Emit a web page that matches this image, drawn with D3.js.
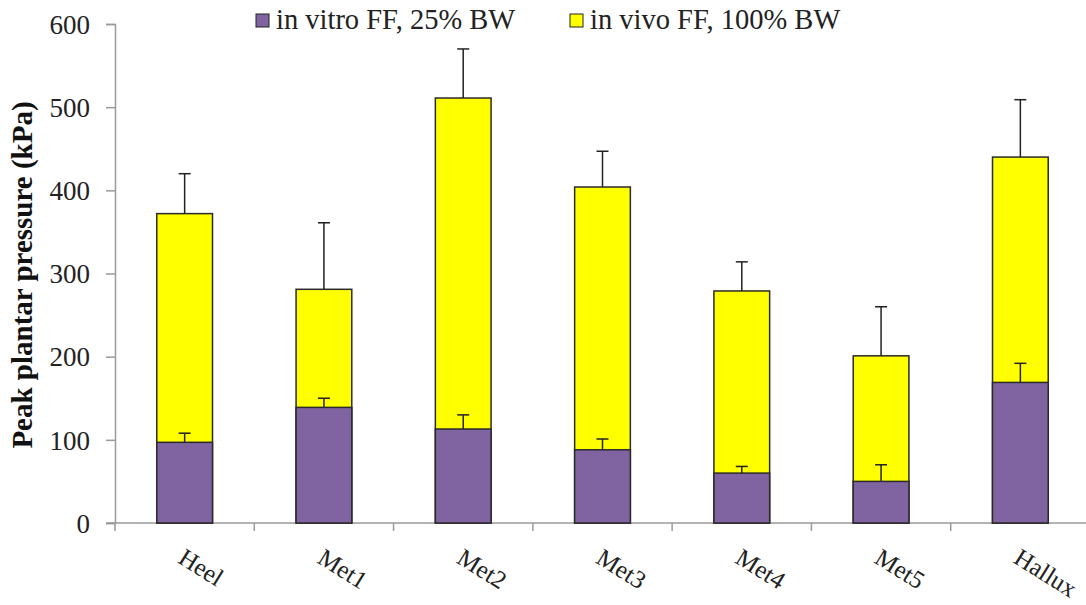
<!DOCTYPE html>
<html><head><meta charset="utf-8">
<script src="https://cdn.jsdelivr.net/npm/d3@7"></script>
<style>body{margin:0;background:#fff} svg text{font-family:"Liberation Serif","DejaVu Serif","Times New Roman",serif;}</style>
</head><body>
<svg id="c" width="1086" height="605"></svg>
<script>
const categories = ["Heel","Met1","Met2","Met3","Met4","Met5","Hallux"];
const vivo = [372, 281, 511, 404, 279, 201, 440];
const vivoErr = [48, 80, 59, 43, 35, 59, 69];
const vitro = [97, 139, 113, 88, 60, 50, 169];
const vitroErr = [11, 11, 17, 13, 8, 20, 23];
const yTicks = [0,100,200,300,400,500,600];
const seriesNames = ["in vitro FF, 25% BW","in vivo FF, 100% BW"];
const colors = ["#8064A2","#FFFF00"];

(function(){
const svg = d3.select("#c");
const mLeft = 115, mRight = 1090, mTop = 24, mBottom = 523;
const x = d3.scaleBand().domain(categories).range([mLeft,mRight]).paddingInner(0.6).paddingOuter(0.3);
const xb = d3.scaleBand().domain(categories).range([mLeft,mRight]);
const y = d3.scaleLinear().domain([0,600]).range([mBottom,mTop]);

// y axis
const ya = svg.append("g").attr("transform",`translate(${mLeft},0)`)
  .call(d3.axisLeft(y).tickValues(yTicks).tickSize(9).tickPadding(16));
ya.attr("font-family",null).attr("font-size",null);
ya.select(".domain").attr("stroke","#9a9a9a").attr("stroke-width",1.5);
ya.selectAll(".tick line").attr("stroke","#9a9a9a").attr("stroke-width",1.5);
ya.selectAll(".tick text").style("font-size","27px").attr("fill","#222").attr("dy","0.34em");

// x axis
const xa = svg.append("g").attr("transform",`translate(0,${mBottom})`);
xa.append("line").attr("x1",mLeft-9).attr("x2",1086).attr("y1",0).attr("y2",0).attr("stroke","#9a9a9a").attr("stroke-width",1.5);
xa.selectAll("line.t").data(categories).join("line").attr("class","t")
  .attr("x1",d=>xb(d)).attr("x2",d=>xb(d)).attr("y1",0).attr("y2",8)
  .attr("stroke","#9a9a9a").attr("stroke-width",1.5);
xa.selectAll("text").data(categories).join("text")
  .attr("transform",d=>`translate(${x(d)+x.bandwidth()/2-8},${39}) rotate(32)`)
  .style("font-size","25px").attr("fill","#222")
  .text(d=>d);

const g = svg.append("g");
function drawErr(vals, errs){
  categories.forEach((c,i)=>{
    const cx = x(c)+x.bandwidth()/2;
    g.append("line").attr("x1",cx).attr("x2",cx).attr("y1",y(vals[i])).attr("y2",y(vals[i]+errs[i])).attr("stroke","#222").attr("stroke-width",1.5);
    g.append("line").attr("x1",cx-6).attr("x2",cx+6).attr("y1",y(vals[i]+errs[i])).attr("y2",y(vals[i]+errs[i])).attr("stroke","#222").attr("stroke-width",1.5);
  });
}
g.selectAll("rect.vivo").data(vivo).join("rect").attr("class","vivo")
  .attr("x",(d,i)=>x(categories[i])).attr("width",x.bandwidth())
  .attr("y",d=>y(d)).attr("height",d=>mBottom-y(d))
  .attr("fill",colors[1]).attr("stroke","#2a2a2a").attr("stroke-width",1.5);
drawErr(vivo, vivoErr);
drawErr(vitro, vitroErr);
g.selectAll("rect.vitro").data(vitro).join("rect").attr("class","vitro")
  .attr("x",(d,i)=>x(categories[i])).attr("width",x.bandwidth())
  .attr("y",d=>y(d)).attr("height",d=>mBottom-y(d))
  .attr("fill",colors[0]).attr("stroke","#2a2a2a").attr("stroke-width",1.5);

svg.append("text").attr("transform",`translate(32,275) rotate(-90)`)
  .attr("text-anchor","middle").attr("font-weight","bold")
  .style("font-size","29px").attr("fill","#111").text("Peak plantar pressure (kPa)");

const legX = [256, 570];
seriesNames.forEach((s,i)=>{
  svg.append("rect").attr("x",legX[i]).attr("y",14).attr("width",13).attr("height",13)
    .attr("fill",colors[i]).attr("stroke","#222").attr("stroke-width",1);
  svg.append("text").attr("x",legX[i]+20).attr("y",29)
    .style("font-size","28.5px").attr("fill","#222").text(s);
});
})();
</script>
</body></html>
